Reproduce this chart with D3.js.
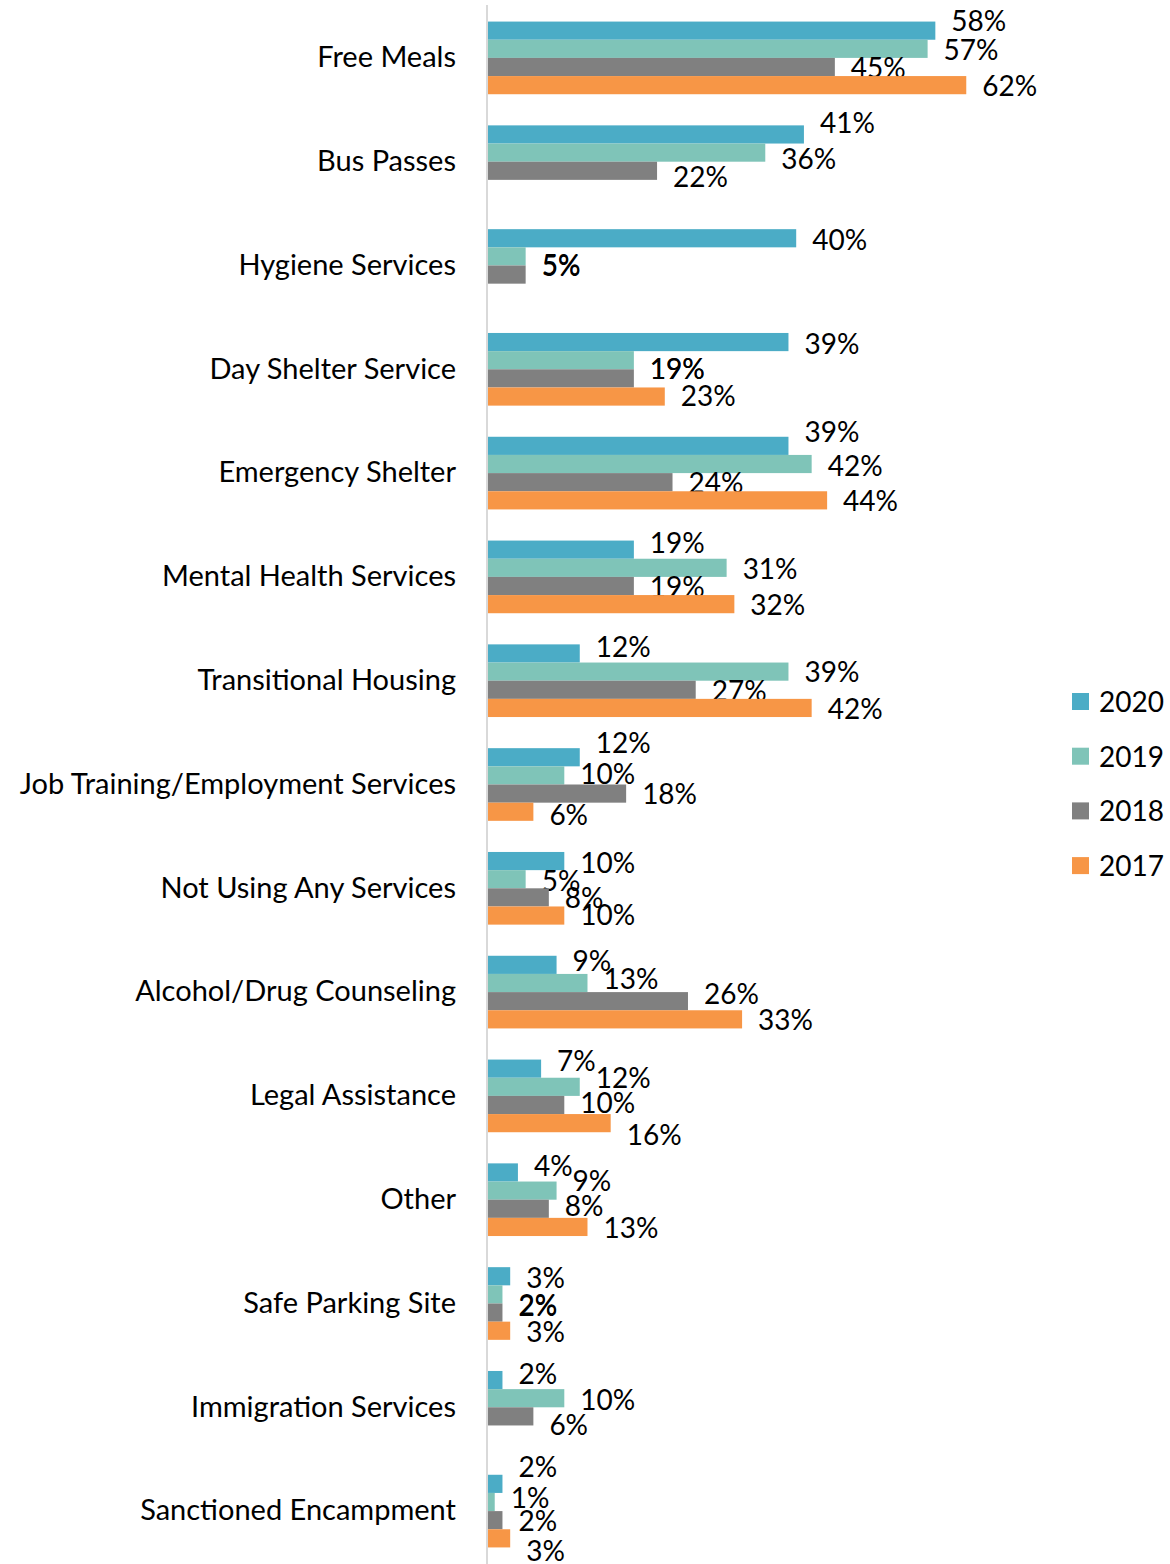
<!DOCTYPE html>
<html>
<head>
<meta charset="utf-8">
<script src="https://cdn.jsdelivr.net/npm/d3@7"></script>
<style>
  html, body { margin: 0; padding: 0; background: #fff; }
  svg { display: block; font-family: Lato, "Open Sans", sans-serif; }
</style>
</head>
<body>
<div id="chart"></div>
<script>
// ---------------- data ----------------
const categories = [
    "Free Meals", "Bus Passes", "Hygiene Services", "Day Shelter Service",
    "Emergency Shelter", "Mental Health Services", "Transitional Housing",
    "Job Training/Employment Services", "Not Using Any Services",
    "Alcohol/Drug Counseling", "Legal Assistance", "Other",
    "Safe Parking Site", "Immigration Services", "Sanctioned Encampment"
];
const years = ["2020", "2019", "2018", "2017"];
const values2020 = [58, 41, 40, 39, 39, 19, 12, 12, 10, 9, 7, 4, 3, 2, 2];
const values2019 = [57, 36, 5, 19, 42, 31, 39, 10, 5, 13, 12, 9, 2, 10, 1];
const values2018 = [45, 22, 5, 19, 24, 19, 27, 18, 8, 26, 10, 8, 2, 6, 2];
const values2017 = [62, null, null, 23, 44, 32, 42, 6, 10, 33, 16, 13, 3, null, 3];
const seriesValues = [values2020, values2019, values2018, values2017];
const colors = ["#4bacc6", "#7fc4b8", "#808080", "#f79646"];

// ---------------- label nudges (px, the way the labels were dragged in the original) ----------------
const labelShift = [
    [-9, -11, 2, 2, -14, -6, -6, -14, 2, -4, -7, -6, 2, -6, -17],
    [1, 7, 10, 9, 2, 1, 1, -1, 2, -4, -9, -9, 12, 2, -4],
    [1, 6, -9, -9, 1, 1, 1, 1, 1, -7, -2, -3, -7, 9, 1],
    [1, 0, 0, 0, 1, 1, 1, 3, 0, 1, 12, 1, 1, 0, 13]
];

// ---------------- layout ----------------
const width = 1170, height = 1564;
const axisX = 487;
const labelSize = 28;
const catSize = 29;

const svg = d3.select("#chart").append("svg")
    .attr("width", width)
    .attr("height", height);

const y = d3.scaleBand().domain(categories).range([6, 1563]).paddingInner(0.3).paddingOuter(0.15);
const ySub = d3.scaleBand().domain(years).range([0, y.bandwidth()]);
const x = d3.scaleLinear().domain([0, 0.7]).range([axisX, axisX + 0.7 * 773]);

// bars + data labels, one group per year
years.forEach((yr, s) => {
    const rows = categories
        .map((c, i) => ({ c, i, v: seriesValues[s][i] }))
        .filter(d => d.v != null);
    const g = svg.append("g").attr("class", "series-" + yr);
    g.selectAll("rect")
        .data(rows)
        .enter().append("rect")
        .attr("x", x(0))
        .attr("y", d => y(d.c) + ySub(yr))
        .attr("width", d => x(d.v / 100) - x(0))
        .attr("height", ySub.bandwidth())
        .attr("fill", colors[s]);
    g.selectAll("text")
        .data(rows)
        .enter().append("text")
        .attr("x", d => x(d.v / 100) + 16)
        .attr("y", d => y(d.c) + ySub(yr) + ySub.bandwidth() / 2 + labelShift[s][d.i])
        .attr("dy", "0.35em")
        .style("font-size", labelSize + "px")
        .style("fill", "#000")
        .text(d => d.v + "%");
});

// axis line and category labels
const yAxis = d3.axisLeft(y).tickSize(0).tickPadding(31);
const axisG = svg.append("g")
    .attr("transform", `translate(${axisX},0)`)
    .call(yAxis);
axisG.select(".domain")
    .attr("d", `M0,5V${height}`)
    .attr("stroke", "#d9d9d9")
    .attr("stroke-width", 2);
axisG.selectAll(".tick text")
    .style("font-size", catSize + "px")
    .style("font-family", "Lato, 'Open Sans', sans-serif")
    .style("fill", "#000");

// legend
const legend = svg.append("g").attr("transform", "translate(1072,702)");
const legendItems = legend.selectAll("g")
    .data(years)
    .enter().append("g")
    .attr("transform", (d, i) => `translate(0,${i * 54.7})`);
legendItems.append("rect")
    .attr("x", 0).attr("y", -9)
    .attr("width", 17).attr("height", 17)
    .attr("fill", (d, i) => colors[i]);
legendItems.append("text")
    .attr("x", 27)
    .attr("dy", "0.35em")
    .style("font-size", labelSize + "px")
    .text(d => d);
</script>
</body>
</html>
